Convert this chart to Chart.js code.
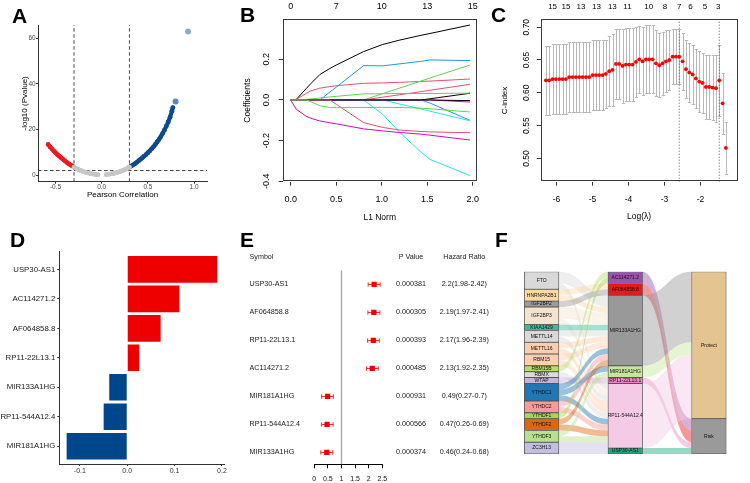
<!DOCTYPE html>
<html>
<head>
<meta charset="utf-8">
<title>lncRNA signature figure</title>
<script src="https://cdn.jsdelivr.net/npm/chart.js@4.4.1/dist/chart.umd.min.js"></script>
<style>
  html, body { margin: 0; padding: 0; background: #fff; }
  #figure { position: relative; width: 750px; height: 483px; overflow: hidden; }
  #figure canvas { position: absolute; }
  .tag { position: absolute; font: bold 21px 'Liberation Sans', Arial, sans-serif; line-height: 21px; color: #000; }
</style>
</head>
<body>
<div id="figure">
  <canvas id="chartA" width="240" height="240" style="left:0px;top:0px"></canvas>
  <canvas id="chartB" width="245" height="240" style="left:240px;top:0px"></canvas>
  <canvas id="chartC" width="260" height="240" style="left:490px;top:0px"></canvas>
  <canvas id="chartD" width="240" height="243" style="left:0px;top:240px"></canvas>
  <canvas id="chartE" width="255" height="243" style="left:245px;top:240px"></canvas>
  <canvas id="chartF" width="260" height="200" style="left:490px;top:262px"></canvas>
  <div class="tag" style="left:12px;top:5px">A</div>
  <div class="tag" style="left:240px;top:4px">B</div>
  <div class="tag" style="left:491px;top:4px">C</div>
  <div class="tag" style="left:10px;top:229px">D</div>
  <div class="tag" style="left:240px;top:229px">E</div>
  <div class="tag" style="left:495px;top:229px">F</div>
</div>
<script>
// ---------- Panel A: correlation vs -log10(p) ----------
const corCut = 0.3;
const logPCut = 2;
const redCor = [-0.58, -0.56, -0.54, -0.52, -0.50, -0.48, -0.46, -0.44, -0.42, -0.40, -0.38, -0.36, -0.34, -0.32, -0.30];
const redLogP = [13.4, 12.4, 11.5, 10.6, 9.8, 9.0, 8.3, 7.6, 6.9, 6.3, 5.6, 5.0, 4.5, 4.0, 3.5];
const greyNegCor = [-0.30, -0.28, -0.26, -0.24, -0.22, -0.20, -0.18, -0.16, -0.14, -0.12, -0.10, -0.08, -0.06, -0.04];
const greyNegLogP = [3.5, 3.0, 2.6, 2.2, 1.9, 1.6, 1.3, 1.05, 0.85, 0.65, 0.5, 0.35, 0.25, 0.15];
const greyPosCor = [0.05, 0.08, 0.10, 0.12, 0.14, 0.16, 0.18, 0.20, 0.22, 0.24, 0.26, 0.28, 0.30];
const greyPosLogP = [0.2, 0.35, 0.5, 0.65, 0.85, 1.05, 1.3, 1.6, 1.9, 2.2, 2.6, 3.0, 3.5];
const blueCor = [0.30, 0.32, 0.34, 0.36, 0.38, 0.40, 0.42, 0.44, 0.46, 0.48, 0.50, 0.52, 0.54, 0.56, 0.58,
                 0.60, 0.62, 0.64, 0.66, 0.68, 0.70, 0.72, 0.74, 0.76, 0.77];
const blueLogP = [3.5, 4.0, 4.5, 5.0, 5.6, 6.3, 6.9, 7.6, 8.3, 9.0, 9.8, 10.6, 11.5, 12.4, 13.4,
                  14.5, 15.6, 16.9, 18.3, 19.8, 21.5, 23.3, 25.4, 28.0, 29.6];
const outlierCor = [0.80, 0.935];
const outlierLogP = [32.3, 62.9];

// ---------- Panel B: LASSO coefficient paths ----------
const l1Knots = [0, 0.06, 0.17, 0.22, 0.32, 0.43, 0.5, 0.8, 1.01, 1.2, 1.43, 1.53, 1.97];
const coef01 = [0, 0.002, 0.056, 0.08, 0.125, 0.155, 0.172, 0.238, 0.273, 0.295, 0.318, 0.327, 0.369];
const coef02 = [0, 0.003, 0.032, 0.045, 0.058, 0.066, 0.070, 0.082, 0.084, 0.087, 0.091, 0.093, 0.103];
const coef03 = [0, 0, 0, 0, 0, 0, 0, 0, 0.031, 0.059, 0.093, 0.108, 0.172];
const coef04 = [0, 0, 0, 0, 0, 0.039, 0.063, 0.169, 0.168, 0.178, 0.190, 0.197, 0.194];
const coef05 = [0, 0, 0, 0, 0, 0, 0, 0, -0.07, -0.16, -0.256, -0.292, -0.372];
const coef06 = [0, -0.045, -0.08, -0.09, -0.103, -0.112, -0.117, -0.142, -0.152, -0.160, -0.168, -0.173, -0.197];
const coef07 = [0, 0, 0, 0, 0, 0, 0, 0, 0, 0, 0, 0.006, 0.033];
const coef08 = [0, 0, 0, 0, 0, 0, 0, 0, 0.014, 0.026, 0.041, 0.048, 0.077];
const coef09 = [0, 0, 0.003, 0.005, 0.010, 0.015, 0.018, 0.030, 0.031, 0.032, 0.032, 0.032, 0.034];
const coef10 = [0, 0, 0, 0, 0, 0, 0, 0, 0, 0, 0, -0.015, -0.1];
const coef11 = [0, 0, 0, 0, 0, 0, 0, 0, 0, -0.02, -0.044, -0.055, -0.102];
const coef12 = [0, 0, 0, 0, 0, 0, 0, 0, 0, 0, 0, 0, -0.01];
const coef13 = [0, 0, 0, 0, 0, 0, 0, 0, 0, 0, 0, 0, -0.003];
const coef14 = [0, 0, 0, 0, 0, 0, -0.021, -0.111, -0.135, -0.148, -0.155, -0.157, -0.161];
const coef15 = [0, 0, 0, -0.008, -0.028, -0.037, -0.038, -0.037, -0.036, -0.037, -0.040, -0.043, -0.059];
const l1Ticks = [0, 0.5, 1, 1.5, 2];
const dfLabels = [0, 7, 10, 13, 15];
const coefTicks = [-0.4, -0.2, 0, 0.2];

// ---------- Panel C: cross-validated C-index ----------
const logLambda = [-6.296, -6.204, -6.111, -6.019, -5.926, -5.833, -5.741, -5.648, -5.556, -5.463,
                   -5.370, -5.278, -5.185, -5.093, -5.000, -4.907, -4.815, -4.722, -4.630, -4.537,
                   -4.444, -4.352, -4.259, -4.167, -4.074, -3.981, -3.889, -3.796, -3.704, -3.611,
                   -3.519, -3.426, -3.333, -3.241, -3.148, -3.056, -2.963, -2.870, -2.778, -2.685,
                   -2.593, -2.500, -2.407, -2.315, -2.222, -2.130, -2.037, -1.944, -1.852, -1.759,
                   -1.667, -1.574, -1.481, -1.389, -1.296];
const cIndex = [0.619, 0.619, 0.621, 0.621, 0.621, 0.621, 0.621, 0.624, 0.624, 0.624,
                0.624, 0.624, 0.624, 0.624, 0.627, 0.627, 0.627, 0.627, 0.629, 0.633,
                0.635, 0.644, 0.644, 0.641, 0.643, 0.643, 0.643, 0.647, 0.651, 0.648,
                0.651, 0.651, 0.651, 0.645, 0.642, 0.645, 0.648, 0.650, 0.655, 0.655,
                0.655, 0.648, 0.636, 0.631, 0.628, 0.622, 0.617, 0.615, 0.609, 0.609,
                0.608, 0.607, 0.619, 0.584, 0.516];
const cIndexSd = [0.053, 0.053, 0.054, 0.054, 0.054, 0.054, 0.054, 0.053, 0.053, 0.053,
                  0.053, 0.053, 0.053, 0.053, 0.053, 0.053, 0.053, 0.053, 0.052, 0.053,
                  0.055, 0.053, 0.053, 0.056, 0.055, 0.055, 0.055, 0.053, 0.051, 0.052,
                  0.052, 0.052, 0.052, 0.050, 0.049, 0.048, 0.047, 0.046, 0.042, 0.042,
                  0.042, 0.043, 0.044, 0.045, 0.045, 0.045, 0.046, 0.046, 0.049, 0.049,
                  0.049, 0.051, 0.054, 0.046, 0.040];
const lambdaMinLog = -2.593;
const lambda1seLog = -1.481;
const nzPos = [-6.11, -5.74, -5.32, -4.89, -4.45, -4.03, -3.44, -2.99, -2.59, -2.28, -1.88, -1.51];
const nzLabels = [15, 15, 13, 13, 13, 11, 10, 8, 7, 6, 5, 3];
const cxTicks = [-6, -5, -4, -3, -2];
const cyTicks = [0.5, 0.55, 0.6, 0.65, 0.7];

// ---------- Panel D: multivariate coefficients ----------
const dGenes = ['USP30-AS1', 'AC114271.2', 'AF064858.8', 'RP11-22L13.1', 'MIR133A1HG', 'RP11-544A12.4', 'MIR181A1HG'];
const dCoef = [0.190, 0.110, 0.0705, 0.0253, -0.038, -0.0498, -0.128];

// ---------- Panel E: forest plot ----------
const eSymbols = ['USP30-AS1', 'AF064858.8', 'RP11-22L13.1', 'AC114271.2', 'MIR181A1HG', 'RP11-544A12.4', 'MIR133A1HG'];
const eP = ['0.000381', '0.000305', '0.000393', '0.000485', '0.000931', '0.000566', '0.000374'];
const eHR = [2.2, 2.19, 2.17, 2.13, 0.49, 0.47, 0.46];
const eLow = [1.98, 1.97, 1.96, 1.92, 0.27, 0.26, 0.24];
const eHigh = [2.42, 2.41, 2.39, 2.35, 0.7, 0.69, 0.68];

// ---------- Panel F: m6A regulator -> lncRNA -> risk ----------
const geneNames = ['FTO', 'HNRNPA2B1', 'IGF2BP2', 'IGF2BP3', 'KIAA1429', 'METTL14', 'METTL16', 'RBM15', 'RBM15B',
                   'RBMX', 'WTAP', 'YTHDC1', 'YTHDC2', 'YTHDF1', 'YTHDF2', 'YTHDF3', 'ZC3H13'];
const lncNames = ['AC114271.2', 'AF064858.8', 'MIR133A1HG', 'MIR181A1HG', 'RP11-22L13.1', 'RP11-544A12.4', 'USP30-AS1'];
const riskNames = ['Protect', 'Risk'];
const lncRisk = ['Risk', 'Risk', 'Protect', 'Protect', 'Risk', 'Protect', 'Risk'];
const linkGene = ['FTO', 'FTO', 'FTO', 'HNRNPA2B1', 'HNRNPA2B1', 'IGF2BP2', 'IGF2BP3', 'IGF2BP3', 'IGF2BP3',
                  'KIAA1429', 'METTL14', 'METTL14', 'METTL16', 'METTL16', 'RBM15', 'RBM15', 'RBM15B', 'RBMX',
                  'WTAP', 'YTHDC1', 'YTHDC1', 'YTHDC1', 'YTHDC2', 'YTHDC2', 'YTHDF1', 'YTHDF2', 'YTHDF2',
                  'YTHDF3', 'YTHDF3', 'ZC3H13', 'ZC3H13'];
const linkLnc = ['MIR133A1HG', 'MIR133A1HG', 'RP11-544A12.4', 'AF064858.8', 'MIR133A1HG', 'AF064858.8',
                 'MIR133A1HG', 'MIR133A1HG', 'RP11-544A12.4', 'MIR133A1HG', 'MIR133A1HG', 'RP11-544A12.4',
                 'MIR133A1HG', 'RP11-544A12.4', 'MIR133A1HG', 'RP11-544A12.4', 'AC114271.2', 'RP11-544A12.4',
                 'RP11-22L13.1', 'MIR133A1HG', 'MIR181A1HG', 'RP11-544A12.4', 'MIR133A1HG', 'RP11-544A12.4',
                 'AC114271.2', 'MIR133A1HG', 'RP11-544A12.4', 'MIR181A1HG', 'RP11-544A12.4', 'RP11-544A12.4',
                 'USP30-AS1'];

// colours
const geneColors = ['#D9D9D9', '#FDD9A6', '#9C9C9C', '#F4E4CE', '#40B99B', '#D9D9D9', '#FDCFB0', '#FDCFB0', '#B3DE69',
                    '#DADADA', '#CAB2D6', '#1F78B4', '#FB9A99', '#A6D854', '#E0650F', '#B8E08E', '#C3BEDF'];
const lncColors = ['#9B52AC', '#E41A1C', '#999999', '#C5E69A', '#E78AC3', '#F4CAE6', '#1FA67E'];
const riskColors = ['#E4C490', '#9A9A9A'];
const pathPalette = ['#000000', '#DF536B', '#61D04F', '#2297E6', '#28E2E5', '#CD0BBC'];

// ---------- shared setup ----------
const fontFamily = "'Liberation Sans', Arial, Helvetica, sans-serif";
Chart.defaults.font.family = fontFamily;
Chart.defaults.color = '#000';
Chart.defaults.animation = false;
Chart.defaults.responsive = false;
Chart.defaults.devicePixelRatio = 1;
Chart.defaults.events = [];
Chart.defaults.plugins.legend.display = false;
Chart.defaults.plugins.tooltip.enabled = false;

const pts = (xs, ys) => xs.map((x, i) => ({ x: x, y: ys[i] }));
const fixW = w => s => { s.width = w; s.paddingTop = 0; s.paddingBottom = 0; };
const fixH = h => s => { s.height = h; s.paddingLeft = 0; s.paddingRight = 0; };
const setTicks = vals => s => { s.ticks = vals.map(v => ({ value: v })); };

function hexA(hex, a) {
    const n = parseInt(hex.slice(1), 16);
    return `rgba(${(n >> 16) & 255},${(n >> 8) & 255},${n & 255},${a})`;
}

// box around R style plots
const boxFrame = {
    id: 'boxFrame',
    afterDraw(chart) {
        const { ctx, chartArea: a } = chart;
        ctx.save();
        ctx.strokeStyle = '#3a3a3a';
        ctx.lineWidth = 1;
        ctx.strokeRect(Math.round(a.left) + 0.5, Math.round(a.top) + 0.5,
            Math.round(a.right - a.left) - 1, Math.round(a.bottom - a.top) - 1);
        ctx.restore();
    }
};

// y tick labels drawn parallel to the axis (R default)
const rotatedYLabels = {
    id: 'rotatedYLabels',
    afterDraw(chart, args, opts) {
        const s = chart.scales.y, ctx = chart.ctx;
        ctx.save();
        ctx.font = `${opts.size}px ${fontFamily}`;
        ctx.fillStyle = '#000';
        ctx.textAlign = 'center';
        ctx.textBaseline = 'middle';
        s.ticks.forEach(t => {
            ctx.save();
            ctx.translate(opts.x, s.getPixelForValue(t.value));
            ctx.rotate(-Math.PI / 2);
            ctx.fillText(opts.format(t.value), 0, 0);
            ctx.restore();
        });
        ctx.restore();
    }
};

// ---------- Panel A ----------
function curve(xs, ys, color) {
    return {
        data: pts(xs, ys), showLine: true, borderColor: color, borderWidth: 4.2,
        backgroundColor: color, pointRadius: 2.4, pointBorderWidth: 0,
        borderCapStyle: 'round', borderJoinStyle: 'round'
    };
}
function refLine(xs, ys) {
    return {
        data: pts(xs, ys), showLine: true, borderColor: '#333', borderWidth: 0.9,
        borderDash: [3.5, 2.5], pointRadius: 0
    };
}
const aXMin = -0.69, aXMax = 1.14, aYMin = -2.9, aYMax = 65.8;

new Chart(document.getElementById('chartA'), {
    type: 'scatter',
    data: {
        datasets: [
            curve(greyNegCor, greyNegLogP, '#C6C6C6'),
            curve(greyPosCor, greyPosLogP, '#C6C6C6'),
            curve(redCor, redLogP, '#EC1B1E'),
            curve(blueCor, blueLogP, '#0C4A8D'),
            { data: pts(outlierCor, outlierLogP), pointRadius: 3, pointBorderWidth: 0,
              backgroundColor: ['#5A88C0', '#88ABD5'] },
            refLine([-corCut, -corCut], [aYMin, aYMax]),
            refLine([corCut, corCut], [aYMin, aYMax]),
            refLine([aXMin, aXMax], [logPCut, logPCut])
        ]
    },
    options: {
        layout: { padding: { top: 25, right: 33, left: 0, bottom: 0 } },
        scales: {
            x: {
                type: 'linear', min: aXMin, max: aXMax,
                afterBuildTicks: setTicks([-0.5, 0, 0.5, 1]), afterFit: fixH(58.3),
                border: { color: '#333', width: 1 },
                grid: { drawOnChartArea: false, tickLength: 2, color: '#333' },
                ticks: { font: { size: 6.5 }, color: '#4D4D4D', padding: -0.5, callback: v => v.toFixed(1) },
                title: { display: true, text: 'Pearson Correlation', font: { size: 8 }, padding: { top: 0, bottom: 40.2 } }
            },
            y: {
                type: 'linear', min: aYMin, max: aYMax,
                afterBuildTicks: setTicks([0, 20, 40, 60]), afterFit: fixW(38),
                border: { color: '#333', width: 1 },
                grid: { drawOnChartArea: false, tickLength: 2, color: '#333' },
                ticks: { font: { size: 6.5 }, color: '#4D4D4D', padding: 0.3 },
                title: { display: true, text: '-log10 (Pvalue)', font: { size: 8 }, padding: { top: 20.2, bottom: 0 } }
            }
        }
    }
});

// ---------- Panel B ----------
const coefPaths = [coef01, coef02, coef03, coef04, coef05, coef06, coef07, coef08,
                   coef09, coef10, coef11, coef12, coef13, coef14, coef15];
const bXMin = -0.088, bXMax = 2.044;

new Chart(document.getElementById('chartB'), {
    type: 'scatter',
    data: {
        datasets: coefPaths.map((c, i) => ({
            data: pts(l1Knots, c), showLine: true, pointRadius: 0, borderWidth: 1,
            borderColor: pathPalette[i % 6], order: 15 - i
        }))
    },
    options: {
        layout: { padding: { top: 0, right: 8.3, left: 0, bottom: 0 } },
        scales: {
            x: {
                type: 'linear', min: bXMin, max: bXMax,
                afterBuildTicks: setTicks(l1Ticks), afterFit: fixH(58.3),
                border: { display: false },
                grid: { drawOnChartArea: false, tickLength: 4, color: '#3a3a3a' },
                ticks: { font: { size: 9 }, padding: 8.2, callback: v => v.toFixed(1) },
                title: { display: true, text: 'L1 Norm', font: { size: 8.5 }, padding: { top: 0, bottom: 16.9 } }
            },
            xTop: {
                type: 'linear', position: 'top', min: bXMin, max: bXMax,
                afterBuildTicks: setTicks(l1Ticks), afterFit: fixH(19.3),
                border: { display: false }, grid: { display: false },
                ticks: { font: { size: 9 }, padding: -1, autoSkip: false, callback: (v, i) => dfLabels[i] }
            },
            y: {
                type: 'linear', min: -0.402, max: 0.397,
                afterBuildTicks: setTicks(coefTicks), afterFit: fixW(42.7),
                border: { display: false },
                grid: { drawOnChartArea: false, tickLength: 4, color: '#3a3a3a' },
                ticks: { display: false },
                title: { display: true, text: 'Coefficients', font: { size: 8.5 }, padding: { top: 2.9, bottom: 0 } }
            }
        },
        plugins: { rotatedYLabels: { x: 26.7, size: 9, format: v => v.toFixed(1) } }
    },
    plugins: [boxFrame, rotatedYLabels]
});

// ---------- Panel C ----------
const cXMin = -6.44, cXMax = -0.98, cYMin = 0.4646, cYMax = 0.712;
const errorBars = {
    id: 'errorBars',
    beforeDatasetsDraw(chart) {
        const { ctx, scales: { x, y } } = chart;
        ctx.save();
        ctx.strokeStyle = '#B8B8B8';
        ctx.lineWidth = 1;
        ctx.beginPath();
        logLambda.forEach((lx, i) => {
            const px = Math.round(x.getPixelForValue(lx)) + 0.5;
            const top = Math.round(y.getPixelForValue(cIndex[i] + cIndexSd[i])) + 0.5;
            const bot = Math.round(y.getPixelForValue(cIndex[i] - cIndexSd[i])) + 0.5;
            ctx.moveTo(px, top); ctx.lineTo(px, bot);
            ctx.moveTo(px - 1.7, top); ctx.lineTo(px + 1.7, top);
            ctx.moveTo(px - 1.7, bot); ctx.lineTo(px + 1.7, bot);
        });
        ctx.stroke();
        ctx.restore();
    }
};
function dotLine(lx) {
    return {
        data: pts([lx, lx], [cYMin, cYMax]), showLine: true, borderColor: '#555',
        borderWidth: 1, borderDash: [1, 2], pointRadius: 0
    };
}

new Chart(document.getElementById('chartC'), {
    type: 'scatter',
    data: {
        datasets: [
            { data: pts(logLambda, cIndex), pointRadius: 1.9, pointBorderWidth: 0, backgroundColor: '#FF0000' },
            dotLine(lambdaMinLog),
            dotLine(lambda1seLog)
        ]
    },
    options: {
        layout: { padding: { top: 0, right: 12.7, left: 0, bottom: 0 } },
        scales: {
            x: {
                type: 'linear', min: cXMin, max: cXMax,
                afterBuildTicks: setTicks(cxTicks), afterFit: fixH(58.3),
                border: { display: false },
                grid: { drawOnChartArea: false, tickLength: 4, color: '#3a3a3a' },
                ticks: { font: { size: 8.5 }, padding: 8.6 },
                title: { display: true, text: 'Log(λ)', font: { size: 8.5 }, padding: { top: 0, bottom: 18.3 } }
            },
            xTop: {
                type: 'linear', position: 'top', min: cXMin, max: cXMax,
                afterBuildTicks: setTicks(nzPos), afterFit: fixH(19.3),
                border: { display: false }, grid: { display: false },
                ticks: { font: { size: 8 }, padding: -0.5, autoSkip: false, callback: (v, i) => nzLabels[i] }
            },
            y: {
                type: 'linear', min: cYMin, max: cYMax,
                afterBuildTicks: setTicks(cyTicks), afterFit: fixW(50.7),
                border: { display: false },
                grid: { drawOnChartArea: false, tickLength: 4, color: '#3a3a3a' },
                ticks: { display: false },
                title: { display: true, text: 'C-index', font: { size: 8 }, padding: { top: 10.2, bottom: 0 } }
            }
        },
        plugins: { rotatedYLabels: { x: 36.7, size: 8.5, format: v => v.toFixed(2) } }
    },
    plugins: [errorBars, boxFrame, rotatedYLabels]
});

// ---------- Panel D ----------
new Chart(document.getElementById('chartD'), {
    type: 'bar',
    data: {
        datasets: [{
            data: dCoef.map((v, i) => ({ x: v, y: i })),
            backgroundColor: dCoef.map(v => (v > 0 ? '#EE0000' : '#00468B')),
            barPercentage: 0.9, categoryPercentage: 1
        }]
    },
    options: {
        indexAxis: 'y',
        layout: { padding: { top: 11.7, right: 16, left: 0, bottom: 0 } },
        scales: {
            x: {
                type: 'linear', min: -0.1435, max: 0.2044,
                afterBuildTicks: setTicks([-0.1, 0, 0.1, 0.2]), afterFit: fixH(19),
                border: { color: '#333', width: 1 },
                grid: { drawOnChartArea: false, tickLength: 2, color: '#333' },
                ticks: { font: { size: 7 }, color: '#333', padding: 0.8, callback: v => v.toFixed(1) }
            },
            y: {
                type: 'linear', reverse: true, min: -0.6, max: 6.6, offset: false,
                afterBuildTicks: setTicks([0, 1, 2, 3, 4, 5, 6]), afterFit: fixW(59.3),
                border: { color: '#333', width: 1 },
                grid: { drawOnChartArea: false, tickLength: 2, color: '#333', offset: false },
                ticks: { font: { size: 7.8 }, color: '#222', padding: 2, callback: v => dGenes[v] }
            }
        }
    }
});

// ---------- Panel E ----------
const forestParts = {
    id: 'forestParts',
    beforeDatasetsDraw(chart) {
        const { ctx, scales: { x, y } } = chart;
        ctx.save();
        ctx.strokeStyle = '#F03030';
        ctx.lineWidth = 1;
        ctx.beginPath();
        eHR.forEach((hr, i) => {
            const py = Math.round(y.getPixelForValue(i)) + 0.5;
            const x0 = x.getPixelForValue(eLow[i]), x1 = x.getPixelForValue(eHigh[i]);
            ctx.moveTo(x0, py); ctx.lineTo(x1, py);
            ctx.moveTo(x0, py - 2.2); ctx.lineTo(x0, py + 2.2);
            ctx.moveTo(x1, py - 2.2); ctx.lineTo(x1, py + 2.2);
        });
        ctx.stroke();
        ctx.restore();
    },
    afterDraw(chart) {
        const { ctx, scales: { y } } = chart;
        ctx.save();
        ctx.fillStyle = '#1a1a1a';
        ctx.font = `7.2px ${fontFamily}`;
        ctx.textBaseline = 'middle';
        ctx.textAlign = 'left';
        ctx.fillText('Symbol', 4.5, 17.3);
        ctx.textAlign = 'center';
        ctx.fillText('P Value', 166, 17.3);
        ctx.fillText('Hazard Ratio', 219.3, 17.3);
        eP.forEach((p, i) => {
            const py = y.getPixelForValue(i);
            ctx.fillText(p, 166, py);
            ctx.fillText(`${eHR[i]}(${eLow[i]}-${eHigh[i]})`, 219.3, py);
        });
        ctx.restore();
    }
};
const eYMin = -0.5, eYMax = 6.43;

new Chart(document.getElementById('chartE'), {
    type: 'scatter',
    data: {
        datasets: [
            { data: pts(eHR, eSymbols.map((s, i) => i)), pointStyle: 'rect', pointRadius: 3.7,
              pointBorderWidth: 0, backgroundColor: '#EE0000' },
            { data: pts([1, 1], [eYMin, eYMax]), showLine: true, borderColor: '#A8A8A8',
              borderWidth: 1.4, pointRadius: 0 }
        ]
    },
    options: {
        layout: { padding: { top: 30.3, right: 117.7, left: 4.5, bottom: 0 } },
        scales: {
            x: {
                type: 'linear', min: 0, max: 2.5,
                afterBuildTicks: setTicks([0, 0.5, 1, 1.5, 2, 2.5]), afterFit: fixH(18.7),
                border: { color: '#000', width: 1 },
                grid: { drawOnChartArea: false, tickLength: 4, color: '#000' },
                ticks: { font: { size: 7 }, color: '#111', padding: 6.3, autoSkip: false,
                         minRotation: 0, maxRotation: 0, callback: v => String(v) }
            },
            y: {
                type: 'linear', reverse: true, min: eYMin, max: eYMax,
                afterBuildTicks: setTicks([0, 1, 2, 3, 4, 5, 6]), afterFit: fixW(64.8),
                border: { display: false }, grid: { display: false },
                ticks: { font: { size: 7.2 }, color: '#1a1a1a', crossAlign: 'far', callback: v => eSymbols[v] }
            }
        }
    },
    plugins: [forestParts]
});

// ---------- Panel F ----------
const nodeWidth = 34.6;
const geneCount = geneNames.map(g => linkGene.filter(v => v === g).length);
const lncCount = lncNames.map(l => linkLnc.filter(v => v === l).length);
const riskCount = riskNames.map(r => lncNames.reduce((s, l, i) => s + (lncRisk[i] === r ? lncCount[i] : 0), 0));
function stackRanges(counts) {
    let acc = 0;
    return counts.map(c => { const r = [acc, acc + c]; acc += c; return r; });
}
const geneRange = stackRanges(geneCount);
const lncRange = stackRanges(lncCount);
const riskRange = stackRanges(riskCount);

// ribbon segments, stacked within each node
const links = linkGene.map((g, k) => ({ g: geneNames.indexOf(g), l: lncNames.indexOf(linkLnc[k]) }));
const geneCursor = geneRange.map(r => r[0]);
links.slice().sort((a, b) => a.g - b.g || a.l - b.l).forEach(k => { k.a = geneCursor[k.g]; geneCursor[k.g] += 1; });
const lncCursor = lncRange.map(r => r[0]);
links.slice().sort((a, b) => a.l - b.l || a.g - b.g).forEach(k => { k.b = lncCursor[k.l]; lncCursor[k.l] += 1; });
const riskCursor = riskRange.map(r => r[0]);
const lncFlows = lncNames.map((l, i) => {
    const r = riskNames.indexOf(lncRisk[i]);
    const f = { l: i, r: r, a: lncRange[i][0], b: riskCursor[r], w: lncCount[i] };
    riskCursor[r] += lncCount[i];
    return f;
});

function ribbon(ctx, x0, a0, a1, x1, b0, b1) {
    const xm = (x0 + x1) / 2;
    ctx.beginPath();
    ctx.moveTo(x0, a0);
    ctx.bezierCurveTo(xm, a0, xm, b0, x1, b0);
    ctx.lineTo(x1, b1);
    ctx.bezierCurveTo(xm, b1, xm, a1, x0, a1);
    ctx.closePath();
    ctx.fill();
}

const nodeNames = geneNames.concat(lncNames, riskNames);
const alluvial = {
    id: 'alluvial',
    beforeDatasetsDraw(chart) {
        const { ctx, scales: { x, y } } = chart;
        const half = nodeWidth / 2;
        ctx.save();
        const gx = x.getPixelForValue(0) + half, lxl = x.getPixelForValue(1) - half;
        links.forEach(k => {
            ctx.fillStyle = hexA(geneColors[k.g], 0.45);
            ribbon(ctx, gx, y.getPixelForValue(k.a), y.getPixelForValue(k.a + 1),
                lxl, y.getPixelForValue(k.b), y.getPixelForValue(k.b + 1));
        });
        const lxr = x.getPixelForValue(1) + half, rx = x.getPixelForValue(2) - half;
        lncFlows.forEach(f => {
            ctx.fillStyle = hexA(lncColors[f.l], 0.45);
            ribbon(ctx, lxr, y.getPixelForValue(f.a), y.getPixelForValue(f.a + f.w),
                rx, y.getPixelForValue(f.b), y.getPixelForValue(f.b + f.w));
        });
        ctx.restore();
    },
    afterDatasetsDraw(chart) {
        const ctx = chart.ctx;
        const meta = chart.getDatasetMeta(0);
        ctx.save();
        ctx.font = `5px ${fontFamily}`;
        ctx.fillStyle = '#111';
        ctx.textAlign = 'center';
        ctx.textBaseline = 'middle';
        meta.data.forEach((el, i) => {
            ctx.fillText(nodeNames[i], el.x, (el.y + el.base) / 2);
        });
        ctx.restore();
    }
};

const nodeData = geneRange.map(r => ({ x: 0, y: r }))
    .concat(lncRange.map(r => ({ x: 1, y: r })), riskRange.map(r => ({ x: 2, y: r })));

new Chart(document.getElementById('chartF'), {
    type: 'bar',
    data: {
        datasets: [{
            data: nodeData,
            backgroundColor: geneColors.concat(lncColors, riskColors),
            borderColor: '#555',
            borderWidth: 0.8,
            borderSkipped: false,
            barThickness: nodeWidth
        }]
    },
    options: {
        layout: { padding: { top: 9.7, right: 0, left: 0, bottom: 8 } },
        scales: {
            x: { type: 'linear', min: -0.306, max: 2.18, display: false },
            y: { type: 'linear', reverse: true, min: 0, max: 31, display: false }
        }
    },
    plugins: [alluvial]
});
</script>
</body>
</html>
